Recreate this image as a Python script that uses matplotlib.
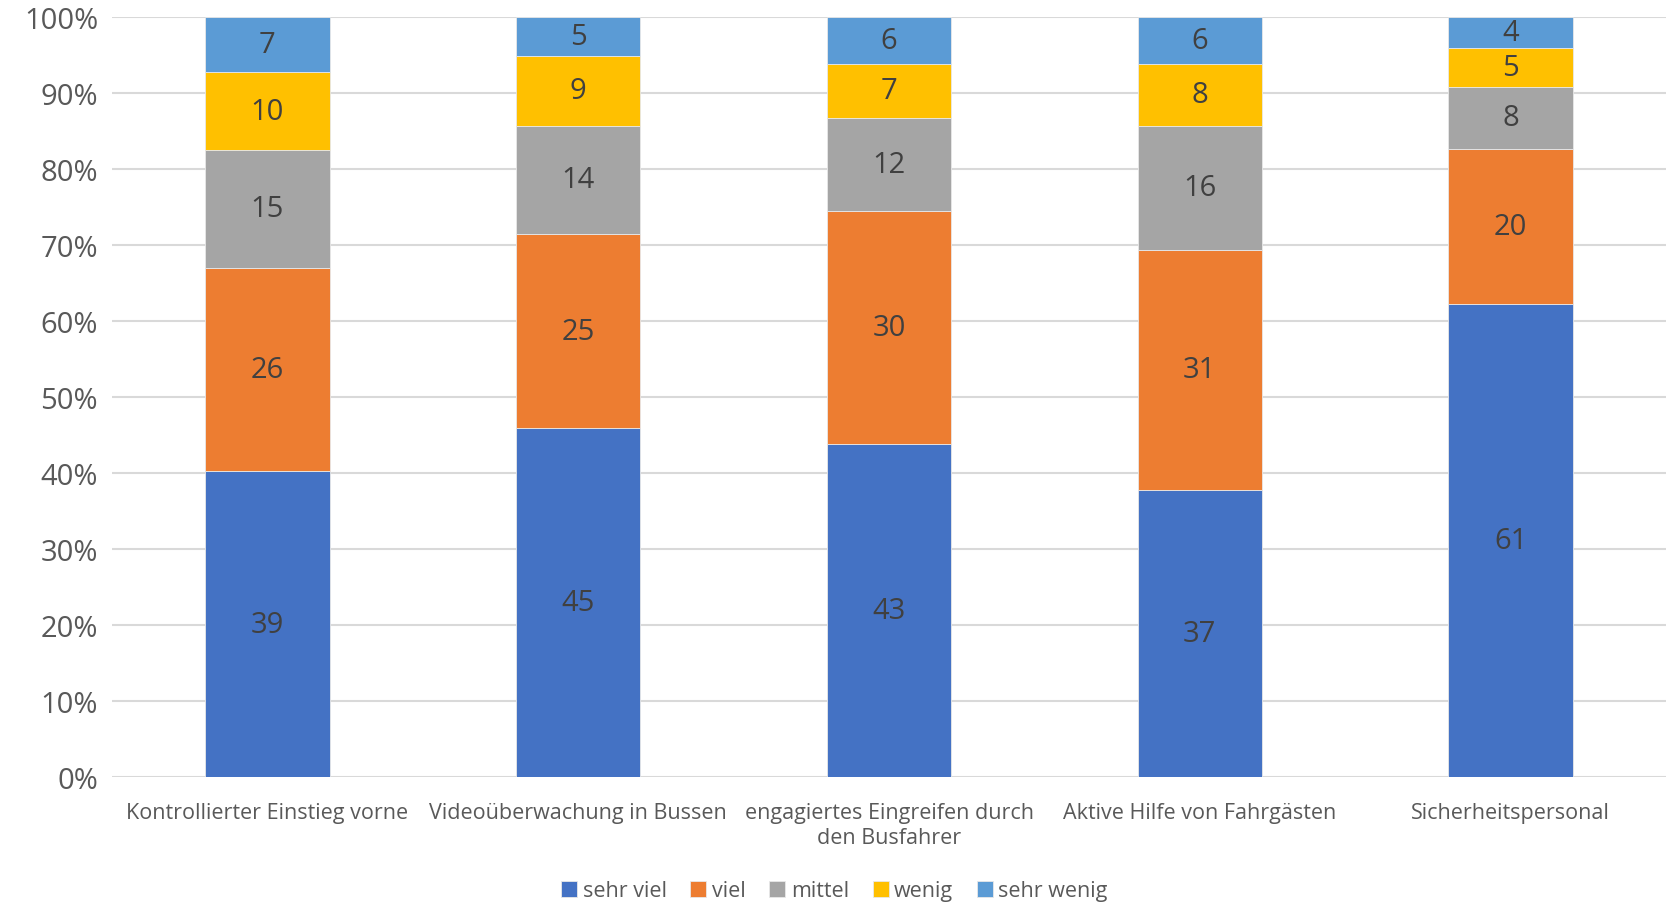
import matplotlib.pyplot as plt
import numpy as np
from matplotlib.ticker import PercentFormatter

plt.rcParams['font.family'] = ['Open Sans', 'DejaVu Sans']

# Daten
kategorien = ['Kontrollierter Einstieg vorne', 'Videoüberwachung in Bussen',
              'engagiertes Eingreifen durch\nden Busfahrer', 'Aktive Hilfe von Fahrgästen',
              'Sicherheitspersonal']
stufen = ['sehr viel', 'viel', 'mittel', 'wenig', 'sehr wenig']
sehr_viel = [39, 45, 43, 37, 61]
viel = [26, 25, 30, 31, 20]
mittel = [15, 14, 12, 16, 8]
wenig = [10, 9, 7, 8, 5]
sehr_wenig = [7, 5, 6, 6, 4]
farben = ['#4472C4', '#ED7D31', '#A5A5A5', '#FFC000', '#5B9BD5']

serien = np.array([sehr_viel, viel, mittel, wenig, sehr_wenig], dtype=float)
summe = serien.sum(axis=0)
anteil = serien / summe

fig = plt.figure(figsize=(16.69, 9.04), dpi=100)
ax = fig.add_axes([112 / 1669, 1 - 778 / 904, 1554 / 1669, 760 / 904])

x = np.arange(len(kategorien))
unten = np.zeros(len(kategorien))
for i, name in enumerate(stufen):
    bars = ax.bar(x, anteil[i], 0.4, bottom=unten, color=farben[i], label=name,
                  edgecolor='#e8e8e8', linewidth=0.6, zorder=3)
    ax.bar_label(bars, labels=[str(int(v)) for v in serien[i]], label_type='center',
                 fontsize=21, color='#404040')
    unten += anteil[i]

ax.set_xlim(-0.5, 4.5)
ax.set_ylim(0, 1)
ax.set_yticks(np.arange(0, 1.01, 0.1))
ax.yaxis.set_major_formatter(PercentFormatter(1.0, decimals=0))
ax.set_xticks(x)
ax.set_xticklabels(kategorien, fontsize=15.5, color='#595959', linespacing=1.25)
ax.tick_params(axis='y', labelsize=21, labelcolor='#595959', length=0, pad=10)
ax.tick_params(axis='x', length=0, pad=18)
ax.grid(axis='y', color='#d9d9d9', linewidth=1.5, zorder=0)
for s in ax.spines.values():
    s.set_visible(False)

fig.legend(loc='center', bbox_to_anchor=(0.5, 1 - 892 / 904), ncol=5, frameon=False,
           fontsize=15.5, labelcolor='#595959', handlelength=0.75, handleheight=0.75,
           handletextpad=0.25, columnspacing=1.1)

fig.savefig('out.png', dpi=100)
